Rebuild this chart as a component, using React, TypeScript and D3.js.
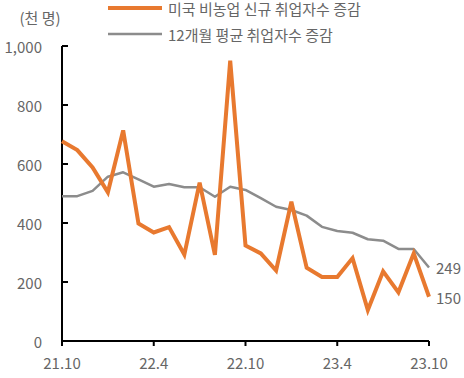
import React from "react";
import * as d3 from "d3";

const months = [
  "21.10","21.11","21.12","22.1","22.2","22.3","22.4","22.5","22.6","22.7","22.8","22.9",
  "22.10","22.11","22.12","23.1","23.2","23.3","23.4","23.5","23.6","23.7","23.8","23.9","23.10",
];
const payrolls = [677, 647, 588, 504, 714, 398, 368, 386, 293, 537, 292, 950,
  324, 297, 239, 472, 248, 217, 217, 281, 105, 236, 165, 297, 150];
const avg12 = [491, 491, 509, 557, 572, 548, 523, 532, 521, 521, 489, 523,
  512, 484, 455, 444, 425, 387, 373, 367, 345, 340, 312, 312, 249];
const xTickLabels = ["21.10", "22.4", "22.10", "23.4", "23.10"];
const yTicks = [0, 200, 400, 600, 800, 1000];
const legendLabels = ["미국 비농업 신규 취업자수 증감", "12개월 평균 취업자수 증감"];
const unitLabel = "(천 명)";

const W = 464, H = 378;
const left = 62, right = 429, top = 46, bottom = 341;
const FONT = "'Noto Sans CJK KR', 'Noto Sans', sans-serif";
const ORANGE = "#E8792F";
const GRAY = "#8C8C8C";
const TEXT = "#666666";

export default function App() {
  const x = d3.scalePoint<string>().domain(months).range([left, right]);
  const y = d3.scaleLinear().domain([0, 1000]).range([bottom, top]);
  const line = d3.line<number>().x((_, i) => x(months[i]) as number).y((d) => y(d));
  const last = months.length - 1;

  return (
    <svg width={W} height={H} style={{ position: "absolute", left: 0, top: 0 }} fontFamily={FONT}>
      {/* legend */}
      <line x1={108} x2={162} y1={8} y2={8} stroke={ORANGE} strokeWidth={4} />
      <text x={168} y={8} dominantBaseline="central" fontSize={15} fill={TEXT}>{legendLabels[0]}</text>
      <line x1={108} x2={162} y1={34} y2={34} stroke={GRAY} strokeWidth={2.5} />
      <text x={168} y={34} dominantBaseline="central" fontSize={15} fill={TEXT}>{legendLabels[1]}</text>
      <text x={40} y={17} dominantBaseline="central" textAnchor="middle" fontSize={15} fill={TEXT}>{unitLabel}</text>

      {/* y axis */}
      <line x1={left} x2={left} y1={top} y2={bottom} stroke="#000" strokeWidth={2} />
      {yTicks.map((t) => (
        <g key={t}>
          <line x1={left} x2={left + 6} y1={y(t)} y2={y(t)} stroke="#000" strokeWidth={2} />
          <text x={42} y={y(t)} textAnchor="end" dominantBaseline="central" fontSize={15} fill={TEXT}>
            {d3.format(",")(t)}
          </text>
        </g>
      ))}

      {/* x axis */}
      <line x1={left} x2={right} y1={bottom} y2={bottom} stroke="#000" strokeWidth={2} />
      {xTickLabels.map((m) => (
        <g key={m}>
          <line x1={x(m)} x2={x(m)} y1={bottom} y2={bottom + 5} stroke="#000" strokeWidth={2} />
          <text x={x(m)} y={362} textAnchor="middle" dominantBaseline="central" fontSize={15} fill={TEXT}>{m}</text>
        </g>
      ))}

      {/* lines */}
      <path d={line(avg12) || ""} fill="none" stroke={GRAY} strokeWidth={2.5} strokeLinejoin="round" />
      <path d={line(payrolls) || ""} fill="none" stroke={ORANGE} strokeWidth={4} strokeLinejoin="miter" />

      {/* end labels */}
      <text x={436} y={y(avg12[last])} dominantBaseline="central" fontSize={15} fill={TEXT}>{avg12[last]}</text>
      <text x={436} y={y(payrolls[last]) + 1} dominantBaseline="central" fontSize={15} fill={TEXT}>{payrolls[last]}</text>
    </svg>
  );
}
